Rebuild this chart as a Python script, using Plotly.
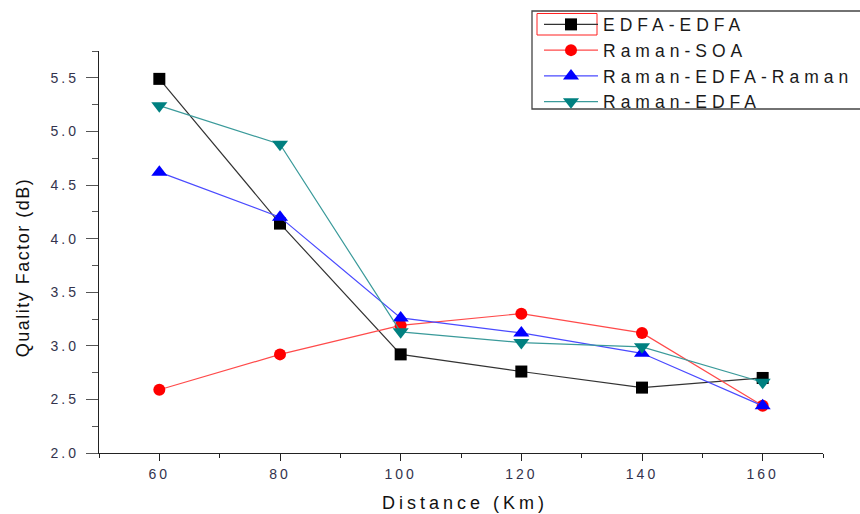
import plotly.graph_objects as go

distance = [60, 80, 100, 120, 140, 160]
edfa_edfa = [5.49, 4.14, 2.92, 2.76, 2.61, 2.70]
raman_soa = [2.59, 2.92, 3.19, 3.30, 3.12, 2.44]
raman_edfa_raman = [4.62, 4.20, 3.26, 3.12, 2.93, 2.44]
raman_edfa = [5.24, 4.88, 3.13, 3.03, 2.99, 2.66]

series = [
    ("EDFA-EDFA", edfa_edfa, "#333333", "#000000", "square", 12),
    ("Raman-SOA", raman_soa, "#ff4a4a", "#ff0000", "circle", 12),
    ("Raman-EDFA-Raman", raman_edfa_raman, "#4a4aff", "#0000ff", "triangle-up", 14),
    ("Raman-EDFA", raman_edfa, "#3a9a9a", "#008080", "triangle-down", 14),
]

W, H = 860, 514
L, R, T, B = 99, 37, 51, 61
PW, PH = W - L - R, H - T - B


def px(xp):
    return (xp - L) / PW


def py(yp):
    return (H - B - yp) / PH


fig = go.Figure()
for name, vals, lc, mc, sym, sz in series:
    fig.add_trace(go.Scatter(
        x=distance, y=vals, name=name, mode="lines+markers",
        line=dict(color=lc, width=1.2),
        marker=dict(color=mc, symbol=sym, size=sz, line=dict(width=0)),
        cliponaxis=False,
    ))

tick_font = dict(family="Liberation Sans, Arial, sans-serif", size=14, color="#33334d")
title_font = dict(family="Liberation Sans, Arial, sans-serif", size=18, color="#111111")

fig.update_layout(
    width=W, height=H,
    margin=dict(l=L, r=R, t=T, b=B, autoexpand=False),
    paper_bgcolor="white", plot_bgcolor="white",
    showlegend=True,
    legend=dict(
        x=px(539), y=py(6.5), xanchor="left", yanchor="top",
        bgcolor="rgba(0,0,0,0)", borderwidth=0,
        itemwidth=54,
        font=dict(family="Liberation Sans, Arial, sans-serif", size=17.5, color="#1a1a1a"),
    ),
    xaxis=dict(
        range=[50, 170], showgrid=False, zeroline=False,
        showline=True, linecolor="#222222", linewidth=1.3,
        ticks="outside", ticklen=7, tickwidth=1.3, tickcolor="#222222",
        tick0=60, dtick=20, tickfont=tick_font,
        minor=dict(ticks="outside", ticklen=4, dtick=10, tick0=50, tickcolor="#222222", tickwidth=1.3),
        ticklabelstandoff=1,
    ),
    yaxis=dict(
        range=[2.0, 5.75], showgrid=False, zeroline=False,
        showline=True, linecolor="#222222", linewidth=1.3,
        ticks="outside", ticklen=12, tickwidth=1.3, tickcolor="#555555",
        tick0=2.0, dtick=0.5, tickformat=".1f", tickfont=tick_font,
        minor=dict(ticks="outside", ticklen=6, dtick=0.25, tick0=2.0, tickcolor="#555555", tickwidth=1.3),
        ticklabelstandoff=4,
    ),
    annotations=[
        dict(text="Distance (Km)", xref="paper", yref="paper", x=px(465), y=py(503),
             xanchor="center", yanchor="middle", showarrow=False, font=title_font),
        dict(text="Quality Factor (dB)", xref="paper", yref="paper", x=px(23), y=py(268),
             xanchor="center", yanchor="middle", showarrow=False, textangle=-90, font=title_font),
    ],
    shapes=[
        dict(type="rect", xref="paper", yref="paper", x0=px(532), x1=1.25, y0=py(109), y1=py(11),
             line=dict(color="#444444", width=1.3), fillcolor="rgba(0,0,0,0)", layer="above"),
        dict(type="rect", xref="paper", yref="paper", x0=px(537), x1=px(597), y0=py(35), y1=py(13.5),
             line=dict(color="#ff2020", width=1), fillcolor="rgba(0,0,0,0)", layer="above"),
    ],
)

css = ("body{margin:0 !important;}"
       ".xtick text,.ytick text{letter-spacing:3px}"
       ".legendtext{letter-spacing:5px}"
       ".annotation-text{letter-spacing:4px}")
post = ("var s=document.createElement('style');s.textContent='" + css + "';"
        "document.head.appendChild(s);"
        "var a=document.querySelectorAll('.annotation-text');"
        "if(a.length>1){a[1].style.letterSpacing='1.5px';}"
        "document.querySelectorAll('.legend .scrollbox, .legend [clip-path]').forEach(function(e){"
        "e.removeAttribute('clip-path');});")

fig.write_html("out.html", post_script=post, config={"displayModeBar": False})
